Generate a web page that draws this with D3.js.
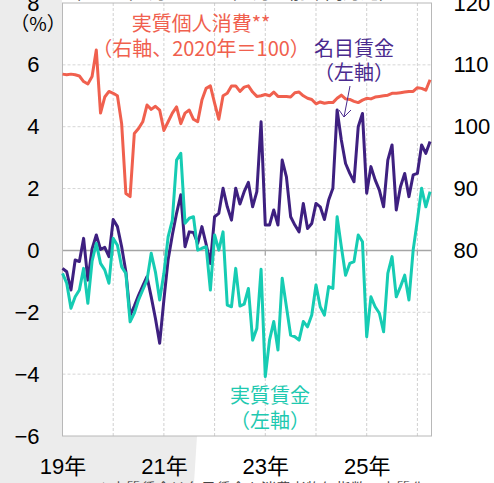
<!DOCTYPE html>
<html>
<head>
<meta charset="utf-8">
<script src="https://cdn.jsdelivr.net/npm/d3@7"></script>
<style>
  body { margin: 0; background: #fff; }
  svg { display: block; }
</style>
</head>
<body>
<div id="chart"></div>
<script>
// monthly, Jan 2019 .. Apr 2026 (index 0 = Jan 2019)
var yearTicks = [0, 24, 48, 72];
var yearLabels = ["19年", "21年", "23年", "25年"];
var leftTicks = [-6, -4, -2, 0, 2, 4, 6, 8];
var rightTicks = [80, 90, 100, 110, 120];

// 名目賃金 (left axis, % y/y)
var nominalWage = [
  -0.58, -0.69, -1.28, -0.31, -0.36, 0.39, -0.96, 0.05, 0.50, 0.03, 0.10, -0.20,
  1.00, 0.77, 0.12, -0.69, -2.10, -1.80, -1.45, -1.15, -0.85, -1.50, -2.20, -3.00,
  -1.60, -0.30, 0.50, 1.20, 1.80, 0.12, 0.60, 0.58, 0.23, 0.77, 0.20, -0.42,
  1.09, 1.20, 2.01, 1.41, 0.98, 2.01, 1.50, 1.90, 2.20, 1.41, 1.90, 4.16,
  0.82, 0.82, 1.31, 0.82, 2.92, 2.38, 1.09, 0.82, 0.60, 1.52, 0.71, 0.87,
  1.52, 1.41, 1.00, 1.63, 2.01, 4.54, 3.57, 2.81, 2.49, 2.22, 4.00, 4.43,
  1.85, 2.71, 2.28, 1.95, 1.41, 2.92, 3.41, 1.31, 2.06, 2.49, 1.74, 2.44,
  2.49, 3.41, 3.14, 3.52
];

// 実質賃金 (left axis, % y/y)
var realWage = [
  -0.74, -1.06, -1.87, -1.50, -1.28, -0.58, -1.71, -0.35, 0.23, -0.42, -0.63, -1.06,
  0.39, 0.17, -0.53, -0.74, -2.31, -2.03, -1.60, -1.28, -0.96, -0.09, -0.70, -1.60,
  -0.74, 0.44, 0.98, 2.92, 3.14, 0.88, 1.04, 1.09, 0.01, 0.07, 0.12, -1.28,
  0.50, 0.01, 0.60, -1.77, -1.82, -0.58, -1.80, -1.74, -1.23, -2.90, -2.52, -0.61,
  -4.08, -2.90, -2.30, -3.22, -0.90, -1.82, -2.74, -2.79, -2.90, -2.30, -2.47, -2.09,
  -1.12, -1.82, -2.09, -1.17, -1.23, 1.09, 0.12, -0.80, -0.42, -0.36, 0.50, 0.28,
  -2.79, -1.50, -1.82, -2.03, -2.63, -0.74, -0.20, -1.50, -1.17, -0.80, -1.60, 0.01,
  0.98, 2.01, 1.41, 1.90
];

// 実質個人消費 (right axis, 2020 = 100)
var realConsumption = [
  108.5, 108.4, 108.5, 108.4, 108.2, 107.3, 106.9, 108.1, 112.4, 102.2, 104.8, 105.7,
  105.4, 105.0, 100.5, 89.2, 88.7, 98.9, 99.7, 100.8, 103.5, 102.8, 103.3, 102.7,
  99.4, 100.8, 102.2, 103.2, 100.5, 102.2, 102.7, 101.2, 100.8, 104.3, 106.2, 106.6,
  103.8, 101.2, 105.0, 105.4, 106.6, 106.6, 105.7, 106.4, 106.6, 105.6, 104.9, 105.0,
  105.2, 105.0, 105.6, 104.9, 104.9, 104.9, 104.8, 105.5, 105.6, 105.0, 104.6, 104.4,
  103.7, 104.0, 103.8, 103.9, 103.9, 104.6, 105.1, 104.5, 104.4, 104.1, 103.9, 104.3,
  104.6, 104.5, 104.8, 104.9, 105.0, 105.1, 105.4, 105.4, 105.5, 105.6, 105.7, 105.7,
  106.3, 106.2, 105.9, 107.6
];

var W = 494, H = 483;
var plot = {left: 62.5, right: 431.5, top: 3, bottom: 436};

var red = "#f0604e", purple = "#3e2080", teal = "#16ccb3";
var numFont = "'Liberation Sans', Arial, 'Noto Sans CJK JP', sans-serif";
var jpFont = "'Noto Sans CJK JP', sans-serif";

var svg = d3.select("#chart").append("svg")
    .attr("width", W)
    .attr("height", H);

// page background (grey panel on the left)
svg.append("path")
    .attr("d", "M0,0 L62,0 L62,436 L197,436 L194,483 L0,483 Z")
    .attr("fill", "#ececec");

var x = d3.scaleLinear()
    .domain([0, 87.34])
    .range([plot.left, plot.right]);
var y = d3.scaleLinear()
    .domain([-6, 8])
    .range([plot.bottom, plot.top]);
var y2 = d3.scaleLinear()
    .domain([50, 120])
    .range([plot.bottom, plot.top]);

// plot background
svg.append("rect")
    .attr("x", plot.left).attr("y", plot.top)
    .attr("width", plot.right - plot.left)
    .attr("height", plot.bottom - plot.top)
    .attr("fill", "#fff");

// horizontal grid
svg.selectAll(".hgrid")
    .data(leftTicks.filter(function(d) { return d != 0 && d != -6 && d != 8; }))
  .enter().append("line")
    .attr("x1", plot.left).attr("x2", plot.right)
    .attr("y1", function(d) { return y(d); })
    .attr("y2", function(d) { return y(d); })
    .attr("stroke", "#d6d6d6")
    .attr("stroke-dasharray", "3,2");

// vertical grid at each January
svg.selectAll(".vgrid")
    .data(d3.range(12, 85, 12))
  .enter().append("line")
    .attr("x1", function(d) { return x(d); })
    .attr("x2", function(d) { return x(d); })
    .attr("y1", plot.top).attr("y2", plot.bottom)
    .attr("stroke", "#d0d0d0")
    .attr("stroke-dasharray", "3,2");

// zero line + small ticks
svg.append("line")
    .attr("x1", plot.left).attr("x2", plot.right)
    .attr("y1", y(0)).attr("y2", y(0))
    .attr("stroke", "#a6a6a6")
    .attr("stroke-width", 1.5);
svg.selectAll(".ztick")
    .data(d3.range(12, 85, 12))
  .enter().append("line")
    .attr("x1", function(d) { return x(d); })
    .attr("x2", function(d) { return x(d); })
    .attr("y1", y(0)).attr("y2", y(0) + 5)
    .attr("stroke", "#a6a6a6")
    .attr("stroke-width", 1.2);

// plot frame
svg.append("rect")
    .attr("x", plot.left).attr("y", plot.top)
    .attr("width", plot.right - plot.left)
    .attr("height", plot.bottom - plot.top)
    .attr("fill", "none")
    .attr("stroke", "#b8b8b8")
    .attr("stroke-width", 1);

// lines
var lineL = d3.line()
    .x(function(d, i) { return x(i); })
    .y(function(d) { return y(d); });
var lineR = d3.line()
    .x(function(d, i) { return x(i); })
    .y(function(d) { return y2(d); });

svg.append("path")
    .datum(realConsumption)
    .attr("d", lineR)
    .attr("fill", "none")
    .attr("stroke", red)
    .attr("stroke-width", 3)
    .attr("stroke-linejoin", "round");

svg.append("path")
    .datum(nominalWage)
    .attr("d", lineL)
    .attr("fill", "none")
    .attr("stroke", purple)
    .attr("stroke-width", 3)
    .attr("stroke-linejoin", "round");

svg.append("path")
    .datum(realWage)
    .attr("d", lineL)
    .attr("fill", "none")
    .attr("stroke", teal)
    .attr("stroke-width", 3)
    .attr("stroke-linejoin", "round");

// left axis
var gL = svg.append("g")
    .attr("transform", "translate(" + (plot.left - 23) + ",0)")
    .call(d3.axisLeft(y).tickValues(leftTicks).tickSize(0).tickPadding(0));
gL.select(".domain").remove();
gL.selectAll("text")
    .attr("font-family", numFont)
    .attr("font-size", 22)
    .attr("fill", "#000");

// right axis
var gR = svg.append("g")
    .attr("transform", "translate(" + (plot.right + 22) + ",0)")
    .call(d3.axisRight(y2).tickValues(rightTicks).tickSize(0).tickPadding(0));
gR.select(".domain").remove();
gR.selectAll("text")
    .attr("font-family", numFont)
    .attr("font-size", 22)
    .attr("fill", "#000");

// x axis labels
var gX = svg.append("g")
    .attr("transform", "translate(0," + plot.bottom + ")")
    .call(d3.axisBottom(x).tickValues(yearTicks).tickSize(0).tickPadding(22)
      .tickFormat(function(d, i) { return yearLabels[i]; }));
gX.select(".domain").remove();
gX.selectAll("text")
    .attr("font-family", numFont)
    .attr("font-size", 22)
    .attr("fill", "#000");

// unit
svg.append("text")
    .attr("x", 38).attr("y", 31)
    .attr("text-anchor", "middle")
    .attr("font-family", jpFont)
    .attr("font-size", 19)
    .attr("fill", "#000")
    .text("（%）");

// cut-off lines above and below
svg.append("text")
    .attr("x", 230).attr("y", -1)
    .attr("text-anchor", "middle")
    .attr("font-family", jpFont)
    .attr("font-size", 18)
    .attr("fill", "#555")
    .text("（2019年1月～2026年4月、前年同月比）");
svg.append("text")
    .attr("x", 96).attr("y", 494)
    .attr("font-family", jpFont)
    .attr("font-size", 15)
    .attr("fill", "#444")
    .text("＊実質賃金は名目賃金を消費者物価指数で実質化");

// annotations
function label(lines, cx, ys, color, size) {
  lines.forEach(function(t, i) {
    svg.append("text")
      .attr("x", cx).attr("y", ys[i])
      .attr("text-anchor", "middle")
      .attr("font-family", jpFont)
      .attr("font-size", size)
      .attr("fill", color)
      .text(t);
  });
}
label(["実質個人消費**", "（右軸、2020年＝100）"], 201, [31, 56], red, 20);
label(["名目賃金", "（左軸）"], 354, [56, 80], "#4a2a8e", 20);
label(["実質賃金", "（左軸）"], 270, [403, 428], "#1fc9b0", 20);

// arrow from nominal wage label
svg.append("path")
    .attr("d", "M350,86 L344,117 M339,110 L344,117 L351,110")
    .attr("fill", "none")
    .attr("stroke", "#4a2a8e")
    .attr("stroke-width", 1);
</script>
</body>
</html>
